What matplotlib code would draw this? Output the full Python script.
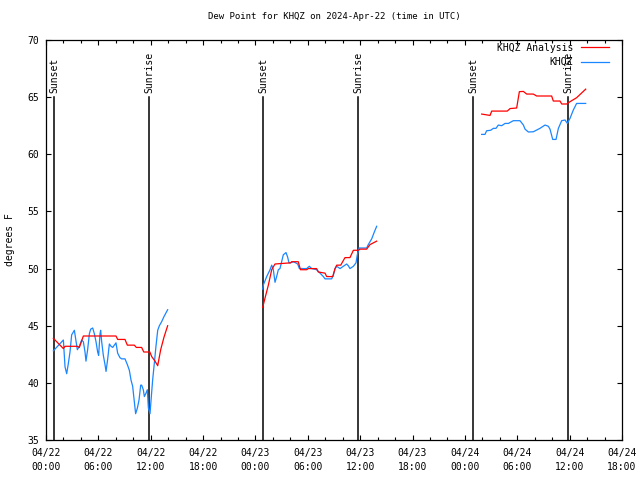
import datetime as dt
import matplotlib
matplotlib.use("Agg")
import matplotlib.pyplot as plt
import matplotlib.dates as mdates

# hours after 2024-04-22 00:00 UTC, with dew point in degrees F
start = dt.datetime(2024, 4, 22, 0, 0)

obs_hours = [
    [0.84, 1.99, 2.18, 2.37, 2.56, 2.75, 2.94, 3.25, 3.59, 3.82,
     4.09, 4.28, 4.47, 4.58, 4.77, 4.97, 5.12, 5.35, 5.54, 5.73,
     5.92, 6.03, 6.19, 6.26, 6.38, 6.57, 6.76, 6.88, 7.07, 7.26,
     7.45, 7.64, 7.83, 8.02, 8.21, 8.48, 8.67, 9.05, 9.32, 9.55,
     9.74, 9.93, 10.12, 10.27, 10.47, 10.66, 10.85, 10.96, 11.15, 11.27,
     11.46, 11.61, 11.73, 11.92, 12.07, 12.22, 12.41, 12.60, 12.80, 12.99,
     13.25, 13.52, 13.94],
    [24.83, 24.90, 25.29, 25.67, 25.86, 26.05, 26.24, 26.43, 26.62, 26.81,
     27.00, 27.19, 27.50, 27.69, 27.84, 28.04, 28.34, 28.61, 28.84, 29.03,
     29.30, 29.87, 30.17, 30.44, 31.01, 31.40, 31.78, 31.97, 32.73, 32.92,
     33.12, 33.31, 33.69, 34.07, 34.45, 34.64, 34.83, 35.22, 35.52, 35.67,
     35.87, 36.74, 36.93, 37.32, 37.62, 37.89],
    [49.92, 50.3, 50.49, 50.95, 51.26, 51.56, 51.83, 52.21, 52.6, 52.98,
     53.55, 54.31, 54.70, 54.89, 55.27, 55.84, 56.6, 57.18, 57.56, 57.75,
     58.06, 58.44, 58.71, 59.09, 59.47, 59.74, 60.04, 60.42, 60.8, 61.84],
]
obs_dewp = [
    [42.8, 43.75, 41.4, 40.8, 41.7, 42.7, 44.2, 44.6, 42.9, 43.2,
     43.75, 43.6, 42.7, 41.9, 42.9, 44.3, 44.7, 44.8, 44.3, 43.6,
     42.7, 42.4, 44.3, 44.6, 43.6, 42.4, 41.6, 41.0, 42.1, 43.4,
     43.2, 43.1, 43.3, 43.5, 42.6, 42.2, 42.1, 42.1, 41.6, 41.1,
     40.25, 39.7, 38.35, 37.3, 37.8, 38.5, 39.8, 39.8, 39.4, 38.8,
     39.1, 39.4, 37.8, 37.3, 38.8, 40.25, 41.7, 43.2, 44.6, 45.0,
     45.35, 45.8, 46.4],
    [48.2, 48.56, 49.3, 49.9, 50.3, 49.9, 48.8, 49.3, 49.9, 50.0,
     50.6, 51.2, 51.4, 51.0, 50.5, 50.5, 50.6, 50.5, 50.4, 50.0,
     50.0, 50.0, 50.2, 50.0, 49.9, 49.6, 49.3, 49.1, 49.1, 49.4,
     50.0, 50.2, 50.0, 50.2, 50.4, 50.25, 50.0, 50.2, 50.5, 51.2,
     51.8, 51.8, 52.1, 52.6, 53.2, 53.7],
    [61.74, 61.74, 62.06, 62.1, 62.27, 62.27, 62.56, 62.5, 62.7, 62.7,
     62.94, 62.94, 62.56, 62.2, 61.95, 61.97, 62.27, 62.56, 62.45, 62.2,
     61.3, 61.3, 62.27, 62.94, 63.0, 62.7, 63.14, 63.87, 64.45, 64.45],
]

ana_hours = [
    [0.84, 1.99, 2.18, 3.59, 3.82, 4.28, 8.02, 8.21, 9.05, 9.32,
     10.12, 10.35, 10.96, 11.2, 11.9, 12.11, 12.49, 12.8, 13.14, 13.52, 13.94],
    [24.83, 25.09, 25.48, 25.86, 26.24, 28.0, 28.15, 28.9, 29.16, 29.87,
     30.05, 31.0, 31.2, 31.97, 32.16, 32.85, 33.12, 33.31, 33.77, 34.26,
     34.83, 35.22, 35.79, 35.98, 36.74, 37.13, 37.89],
    [49.92, 50.88, 51.07, 52.86, 53.17, 53.93, 54.24, 54.70, 55.08, 55.84,
     56.22, 57.94, 58.13, 58.9, 59.09, 59.66, 60.04, 60.8, 61.84],
]
ana_dewp = [
    [43.9, 43.0, 43.2, 43.2, 43.1, 44.1, 44.1, 43.8, 43.8, 43.3,
     43.3, 43.1, 43.1, 42.7, 42.7, 42.3, 41.9, 41.5, 42.9, 44.0, 45.0],
    [46.6, 47.4, 48.56, 49.9, 50.4, 50.5, 50.6, 50.6, 49.9, 49.9,
     50.0, 50.0, 49.7, 49.6, 49.3, 49.3, 50.0, 50.3, 50.3, 50.96,
     50.96, 51.6, 51.6, 51.7, 51.7, 52.1, 52.4],
    [63.52, 63.4, 63.78, 63.78, 64.0, 64.05, 65.48, 65.5, 65.27, 65.27,
     65.1, 65.1, 64.66, 64.66, 64.4, 64.4, 64.6, 64.95, 65.7],
]

sunset_hours = [0.95, 24.9, 48.93]
sunrise_hours = [11.84, 35.75, 59.8]


def to_time(hours):
    return [start + dt.timedelta(hours=h) for h in hours]


plt.rcParams["font.family"] = ["DejaVu Sans Mono"]
plt.rcParams["font.size"] = 7

fig = plt.figure(figsize=(6.4, 4.8), dpi=100)
ax = fig.add_axes([46 / 640, 1 - 440 / 480, 576 / 640, 400 / 480])

# sunrise / sunset markers
for name, hours in (("Sunset", sunset_hours), ("Sunrise", sunrise_hours)):
    for t in to_time(hours):
        ax.plot([t, t], [35, 65], color="black", lw=1.1, zorder=1)
        ax.text(t, 65.4, name, rotation=90, ha="center", va="bottom", fontsize=7)

for i in range(3):
    ax.plot(to_time(ana_hours[i]), ana_dewp[i], color="#ff0000", lw=0.9,
            label="KHQZ Analysis" if i == 0 else None, zorder=3)
for i in range(3):
    ax.plot(to_time(obs_hours[i]), obs_dewp[i], color="#1a86ff", lw=0.9,
            label="KHQZ" if i == 0 else None, zorder=2)

ax.set_xlim(start, start + dt.timedelta(hours=66))
ax.set_ylim(35, 70)
ax.set_yticks(range(35, 71, 5))

ax.xaxis.set_major_locator(mdates.HourLocator(byhour=[0, 6, 12, 18]))
ax.xaxis.set_minor_locator(mdates.HourLocator(byhour=range(0, 24, 2)))
ax.xaxis.set_major_formatter(mdates.DateFormatter("%m/%d\n%H:%M"))
for lab in ax.get_xticklabels():
    lab.set_linespacing(1.4)

ax.tick_params(which="both", direction="in", top=True, right=True, width=0.8)
ax.tick_params(which="major", length=3.5)
ax.tick_params(which="minor", length=2.5)
ax.tick_params(axis="x", pad=6)
ax.tick_params(axis="y", pad=5)
for s in ax.spines.values():
    s.set_linewidth(0.9)

ax.set_ylabel("degrees F", labelpad=9)
ax.set_title("Dew Point for KHQZ on 2024-Apr-22 (time in UTC)", pad=15, fontsize=6.5)

ax.legend(loc="upper right", bbox_to_anchor=(0.981, 0.998), frameon=False,
          markerfirst=False, fontsize=7, handlelength=2.9, handletextpad=0.8,
          labelspacing=0.45, borderaxespad=0.0, borderpad=0.2)

fig.savefig("out.png", dpi=100)
